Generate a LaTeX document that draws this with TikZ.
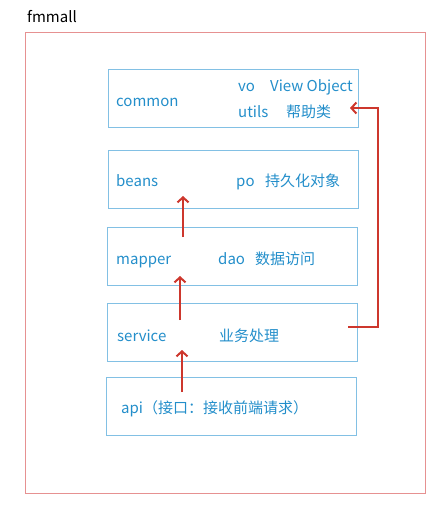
\documentclass[tikz,border=0pt]{standalone}
\usepackage{fontspec}
\setmainfont{Noto Sans CJK SC}
\usetikzlibrary{arrows.meta, positioning}
\definecolor{layerblue}{RGB}{130,192,228}
\definecolor{textblue}{RGB}{35,142,202}
\definecolor{arrowred}{RGB}{205,55,45}
\definecolor{framered}{RGB}{230,145,145}

\begin{document}
\begin{tikzpicture}[
  x=1pt, y=-1pt,
  layer/.style={
    rectangle, draw=layerblue, line width=1.2pt, anchor=north west,
    minimum width=250pt, minimum height=58pt, inner sep=0pt
  },
  txt/.style={anchor=base west, inner sep=0pt, text=textblue,
    font=\fontsize{15}{17}\selectfont},
  arr/.style={-{Straight Barb[length=5pt, width=11pt]}, line width=2pt, color=arrowred}
]
  \useasboundingbox (0,0) rectangle (440,507);

  % Outer frame and title
  \node[draw=framered, line width=1.2pt, anchor=north west, inner sep=0pt,
    minimum width=400pt, minimum height=461pt] (frame) at (25,32) {};
  \node[anchor=base west, inner sep=0pt, font=\fontsize{15}{17}\selectfont] (title) at (27,22) {fmmall};

  % Layer boxes
  \node[layer] (common)  at (108,69)  {};
  \node[layer] (beans)   at (108,150) {};
  \node[layer] (mapper)  at (107,227) {};
  \node[layer] (service) at (107,303) {};
  \node[layer] (api)     at (106,377) {};

  % Layer texts
  \node[txt] (commonname) at (116,106) {common};
  \node[txt] (vo)         at (238,91)  {vo};
  \node[txt] (vodesc)     at (270,91)  {View Object};
  \node[txt] (utils)      at (238,117) {utils};
  \node[txt] (utilsdesc)  at (286,117) {帮助类};
  \node[txt] (beansname)  at (116,186) {beans};
  \node[txt] (po)         at (236,186) {po};
  \node[txt] (podesc)     at (265,186) {持久化对象};
  \node[txt] (mappername) at (116,264) {mapper};
  \node[txt] (dao)        at (218,264) {dao};
  \node[txt] (daodesc)    at (255,264) {数据访问};
  \node[txt] (svcname)    at (117,341) {service};
  \node[txt] (svcdesc)    at (219,341) {业务处理};
  \node[txt] (apiname)    at (121,413) {api（接口：接收前端请求）};

  % Arrow end points
  \coordinate (apiout)    at (182,392);
  \coordinate (svcin)     at (182,350);
  \coordinate (svcup)     at (180,320);
  \coordinate (mapperin)  at (180,276);
  \coordinate (mapperup)  at (183,237);
  \coordinate (beansin)   at (183,196);
  \coordinate (svcright)  at (348,327);
  \coordinate (commonin)  at (350,108);

  % Arrows
  \draw[arr] (apiout) -- (svcin);
  \draw[arr] (svcup) -- (mapperin);
  \draw[arr] (mapperup) -- (beansin);
  \draw[arr] (svcright) -- ++(30,0) |- (commonin);
\end{tikzpicture}
\end{document}
